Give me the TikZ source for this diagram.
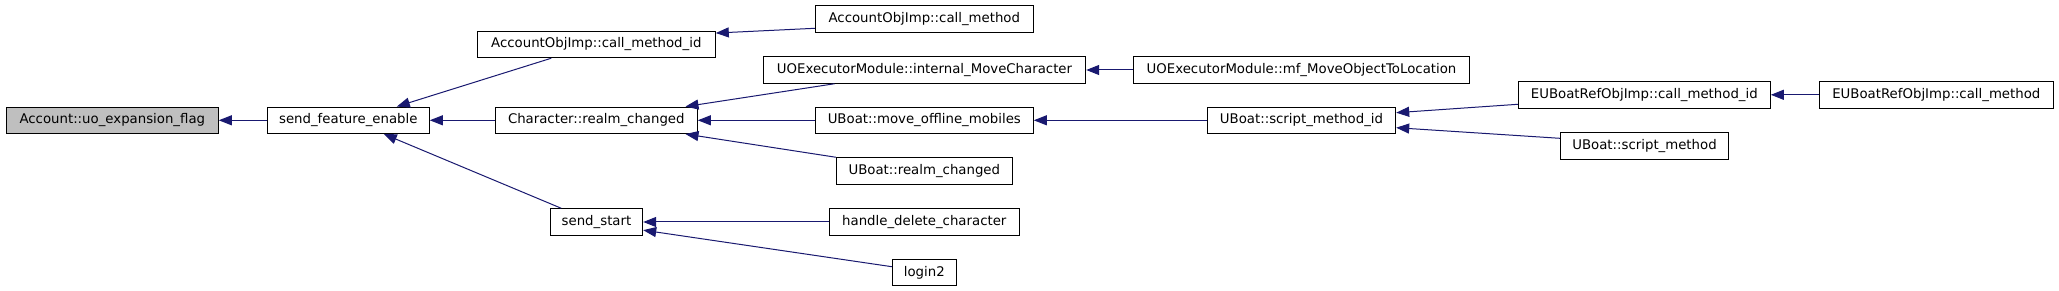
\documentclass[tikz,border=0pt]{standalone}
\usepackage{fontspec}
\setmainfont{DejaVu Sans}
\usetikzlibrary{arrows.meta}
\definecolor{edgeblue}{HTML}{191970}
\definecolor{hlgray}{HTML}{BFBFBF}
\tikzset{
  fn/.style={draw=black, line width=1pt, inner sep=0pt, minimum height=26.5pt,
    font=\fontsize{13.3}{16}\selectfont, fill=white},
  cur/.style={fn, fill=hlgray},
  call/.style={draw=edgeblue, line width=1pt,
    -{Triangle[length=13pt,width=10pt,fill=edgeblue]}},
}
\begin{document}
\begin{tikzpicture}[x=1pt,y=-1pt]
\useasboundingbox[fill=white] (0,0) rectangle (2059,291);
% nodes
\node[cur, minimum width=212pt] (acc) at (112.3,120.3) {Account::uo\_expansion\_flag};
\node[fn, minimum width=162pt] (sfe) at (348.3,120.3) {send\_feature\_enable};
\node[fn, minimum width=238pt] (aocmid) at (596.3,44.5) {AccountObjImp::call\_method\_id};
\node[fn, minimum width=202pt] (crc) at (596.3,120.3) {Character::realm\_changed};
\node[fn, minimum width=92.4pt] (ss) at (596.5,222) {send\_start};
\node[fn, minimum width=218pt] (aocm) at (924.3,18.8) {AccountObjImp::call\_method};
\node[fn, minimum width=322.4pt] (imc) at (924.5,70) {UOExecutorModule::internal\_MoveCharacter};
\node[fn, minimum width=218pt] (mom) at (924.3,120.3) {UBoat::move\_offline\_mobiles};
\node[fn, minimum width=176pt] (urc) at (924.3,171) {UBoat::realm\_changed};
\node[fn, minimum width=190pt] (hdc) at (924.3,222) {handle\_delete\_character};
\node[fn, minimum width=64pt] (login) at (924.3,272.5) {login2};
\node[fn, minimum width=336.4pt] (mf) at (1301.5,70) {UOExecutorModule::mf\_MoveObjectToLocation};
\node[fn, minimum width=188.4pt] (smid) at (1301.5,120.3) {UBoat::script\_method\_id};
\node[fn, minimum width=252pt] (eucmid) at (1644.3,94.8) {EUBoatRefObjImp::call\_method\_id};
\node[fn, minimum width=168.4pt] (usm) at (1644.5,145.8) {UBoat::script\_method};
\node[fn, minimum width=234pt] (eucm) at (1936.3,94.8) {EUBoatRefObjImp::call\_method};
% edges
\draw[call] (sfe.west) -- (acc.east);
\draw[call] ([xshift=74.4pt]aocmid.south west) -- ([xshift=-33pt]sfe.north east);
\draw[call] (crc.west) -- (sfe.east);
\draw[call] ([xshift=11.4pt]ss.north west) -- ([xshift=-46pt]sfe.south east);
\draw[call] ([yshift=-9.5pt]aocm.west) -- ([yshift=-2.3pt]aocmid.north east);
\draw[call] ([xshift=71.7pt]imc.south west) -- ([xshift=-12.3pt]crc.north east);
\draw[call] (mom.west) -- (crc.east);
\draw[call] (urc.north west) -- ([xshift=-12.3pt]crc.south east);
\draw[call] (hdc.west) -- (ss.east);
\draw[call] ([yshift=5.8pt]login.west) -- ([yshift=5.6pt]ss.south east);
\draw[call] (mf.west) -- (imc.east);
\draw[call] (smid.west) -- (mom.east);
\draw[call] ([yshift=-9.5pt]eucmid.west) -- ([yshift=7.6pt]smid.east);
\draw[call] ([yshift=7.5pt]usm.west) -- ([yshift=-7.4pt]smid.east);
\draw[call] (eucm.west) -- (eucmid.east);
\end{tikzpicture}
\end{document}
